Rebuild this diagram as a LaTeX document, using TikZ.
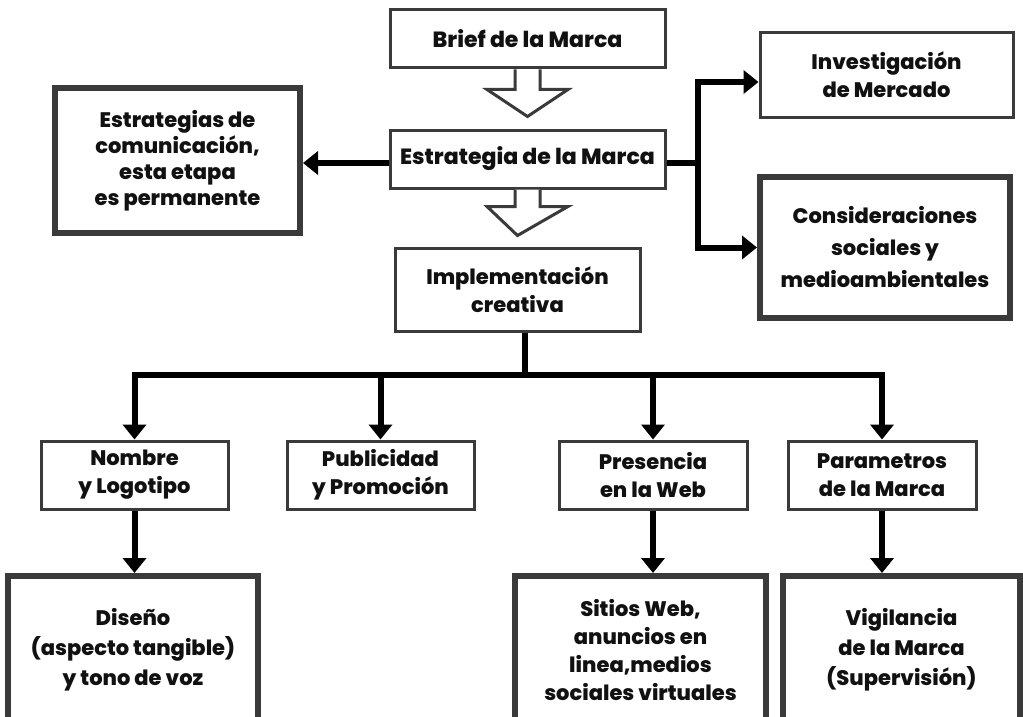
\documentclass[tikz,border=0pt]{standalone}
\usepackage{fontspec}
\setmainfont{Poppins}[BoldFont={Poppins ExtraBold}]
\usetikzlibrary{arrows.meta,calc}
\definecolor{bordc}{HTML}{3A3A3A}
\definecolor{txtc}{HTML}{111111}
\begin{document}
\begin{tikzpicture}[x=1pt,y=-1pt,
  box/.style={draw=bordc, line width=3pt, fill=white, inner sep=0pt, align=center,
    text=txtc, font=\bfseries\fontsize{21}{28}\selectfont},
  thickbox/.style={box, line width=6pt},
  conn/.style={line width=6pt, draw=black, line join=miter},
  arr/.style={conn, -{Triangle[width=23pt,length=15pt]}},
  darr/.style={conn, {Triangle[width=23pt,length=15pt]}-{Triangle[width=23pt,length=15pt]}},
  hollow/.style={draw=bordc, line width=3pt, fill=white, line join=miter}
]
\useasboundingbox (0,0) rectangle (1023,717);
\clip (0,0) rectangle (1023,717);
\fill[white] (0,0) rectangle (1023,717);

% top column
\node[box, minimum width=275pt, minimum height=58pt, font=\bfseries\fontsize{22}{28}\selectfont] (brief) at (527.5,39) {Brief de la Marca};
\node[box, minimum width=275pt, minimum height=58pt, font=\bfseries\fontsize{22}{28}\selectfont] (estr) at (527.5,159) {Estrategia de la Marca};
\node[box, minimum width=245pt, minimum height=83pt] (impl) at (517.5,289.5) {Implementación\\creativa};

% side boxes
\node[thickbox, minimum width=245pt, minimum height=145pt, font=\bfseries\fontsize{21}{26}\selectfont] (comm) at (177.5,160.5) {Estrategias de\\comunicación,\\esta etapa\\es permanente};
\node[box, minimum width=253pt, minimum height=84pt] (inv) at (886.5,75) {Investigación\\de Mercado};
\node[thickbox, minimum width=250pt, minimum height=141pt, font=\bfseries\fontsize{21}{32}\selectfont] (cons) at (885,247.5) {Consideraciones\\sociales y\\medioambientales};

% second row
\node[box, minimum width=187pt, minimum height=68pt] (nombre) at (134.5,475) {Nombre\\y Logotipo};
\node[box, minimum width=187pt, minimum height=68pt] (publi) at (380.5,475) {Publicidad\\y Promoción};
\node[box, minimum width=188pt, minimum height=68pt] (pres) at (653,475) {Presencia\\en la Web};
\node[box, minimum width=188pt, minimum height=68pt] (param) at (882,475) {Parametros\\de la Marca};

% third row
\node[thickbox, minimum width=250pt, minimum height=148pt, font=\bfseries\fontsize{21}{30}\selectfont] (diseno) at (133,650) {Diseño\\(aspecto tangible)\\y tono de voz};
\node[thickbox, minimum width=251pt, minimum height=148pt, font=\bfseries\fontsize{21}{28}\selectfont] (sitios) at (640.5,650) {Sitios Web,\\anuncios en\\linea,medios\\sociales virtuales};
\node[thickbox, minimum width=237pt, minimum height=148pt, font=\bfseries\fontsize{21}{30}\selectfont] (vigil) at (901.5,650) {Vigilancia\\de la Marca\\(Supervisión)};

% hollow arrows
\draw[hollow] ($(brief.south)+(-12.5,0)$) -- ++(0,20) -- ++(-28,0) -- ($(estr.north)+(0,-12)$)
  -- ($(brief.south)+(40.5,20)$) -- ++(-28,0) -- ($(brief.south)+(12.5,0)$);
\draw[hollow] ($(estr.south)+(-12.5,0)$) -- ++(0,17) -- ++(-28,0) -- ($(impl.north)+(0,-11)$)
  -- ($(estr.south)+(40.5,17)$) -- ++(-28,0) -- ($(estr.south)+(12.5,0)$);

% left and right connectors
\draw[arr] ([yshift=-4pt]estr.west) -- ([yshift=-4pt]estr.west -| comm.east);
\coordinate (rj) at (698,163);
\draw[conn] ([yshift=-4pt]estr.east) -- (rj);
\draw[darr] ([yshift=-7pt]inv.west) -| (rj) |- (cons.west);

% tree
\coordinate (bus) at (525,375);
\draw[conn] (bus |- impl.south) -- (bus);
\draw[darr] (nombre.north) |- (bus) -| (param.north);
\draw[arr] (publi.north |- bus) -- (publi.north);
\draw[arr] (pres.north |- bus) -- (pres.north);

% lower connectors
\draw[arr] (nombre.south) -- (diseno.north -| nombre.south);
\draw[arr] (pres.south) -- (sitios.north -| pres.south);
\draw[arr] (param.south) -- (vigil.north -| param.south);
\end{tikzpicture}
\end{document}
